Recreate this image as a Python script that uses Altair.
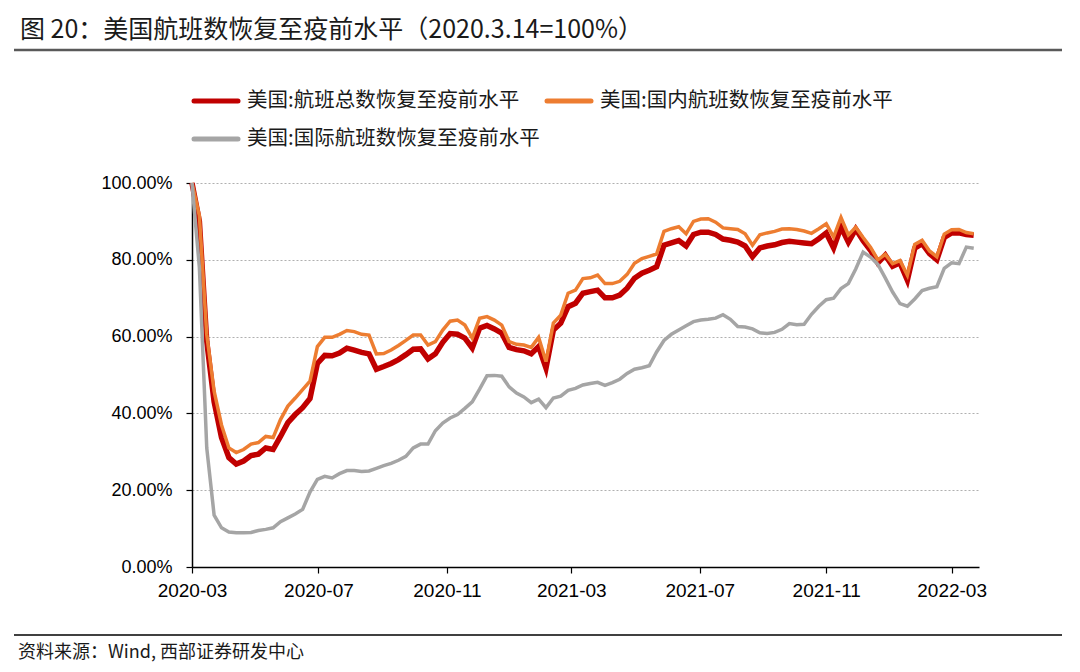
import altair as alt
import pandas as pd

title_text = "图 20：美国航班数恢复至疫前水平（2020.3.14=100%）"
source_text = "资料来源：Wind, 西部证券研发中心"
series_names = ["美国:航班总数恢复至疫前水平", "美国:国内航班数恢复至疫前水平", "美国:国际航班数恢复至疫前水平"]
series_colors = ["#C00000", "#ED7D31", "#A5A5A5"]
start_date = "2020-03-14"

# weekly index values, 2020-03-14 = 100
total = [100, 90, 58.7, 43, 33.7, 28.5, 26.8, 27.6, 29, 29.4, 31, 30.6, 34, 37.6, 39.7, 41.5, 43.9, 53,
         55.1, 55, 55.7, 57, 56.5, 55.9, 55.5, 51.5, 52.2, 53, 54, 55.3, 56.7, 56.8, 54.2, 55.5, 58.5,
         60.8, 60.6, 59.6, 57, 62.2, 62.9, 62, 60.9, 57.2, 56.6, 56.3, 55.5, 57.4, 51.8, 61.7, 63.5,
         67.8, 68.7, 71.3, 71.7, 72.1, 70.1, 70.1, 70.8, 72.6, 75.2, 76.5, 77.3, 78.2, 83.8, 84.4, 85,
         83.6, 86.6, 87.2, 87.2, 86.6, 85.4, 85.1, 84.6, 83.6, 80.8, 83.1, 83.6, 83.9, 84.5, 84.8, 84.6,
         84.4, 84.2, 85.5, 87, 83.1, 88.5, 84.6, 88, 85, 82.5, 79.2, 81.2, 78.3, 79.2, 74.7, 83, 84.2,
         81.6, 80, 85.8, 87, 87, 86.6, 86.4]
domestic = [100, 91.5, 60.5, 45.8, 37, 31, 29.8, 30.6, 32, 32.4, 34, 33.7, 38.4, 41.9, 44, 46.2, 48.4, 57.4,
            59.8, 59.8, 60.6, 61.6, 61.3, 60.6, 60.4, 55.5, 55.6, 56.5, 57.7, 59, 60.4, 60.4, 57.8, 58.7,
            61.7, 64, 64.3, 63, 59.6, 64.8, 65.2, 64.3, 63, 58.7, 58, 57.8, 57.2, 59.8, 53.5, 63.5, 65.6,
            71.3, 72.1, 75.1, 75.3, 76, 73.8, 73.8, 74.4, 76.2, 79.1, 80.3, 80.9, 81.5, 87.4, 88.1, 88.6,
            86.8, 90, 90.6, 90.7, 89.8, 88.3, 88.1, 87.9, 86.8, 83.8, 86.5, 87, 87.4, 88, 88.1, 87.9, 87.5,
            86.9, 88.1, 89.4, 85.9, 91, 86.5, 88.5, 85.8, 83.3, 80, 81.4, 79, 79.8, 76, 84, 85.1, 82.3,
            80.8, 86.7, 87.8, 87.9, 87.1, 86.8]
international = [100, 78, 31, 13.5, 10.2, 9.1, 8.9, 8.9, 9.0, 9.5, 9.8, 10.2, 11.8, 12.8, 13.8, 15, 19.5,
                 22.8, 23.6, 23.2, 24.3, 25.1, 25.1, 24.9, 25, 25.7, 26.4, 27, 27.8, 28.8, 31, 32, 32, 35.5,
                 37.5, 38.8, 39.7, 41.3, 43, 46.3, 49.8, 49.9, 49.7, 46.9, 45.3, 44.3, 42.8, 43.7, 41.5, 44,
                 44.5, 46, 46.5, 47.4, 47.8, 48.1, 47.3, 48, 48.9, 50.4, 51.5, 51.9, 52.4, 56, 59, 60.6, 61.7,
                 62.8, 63.9, 64.3, 64.5, 64.8, 65.7, 64.5, 62.6, 62.5, 62, 61, 60.8, 61.1, 61.9, 63.4, 63.1,
                 63.2, 65.8, 67.9, 69.6, 70, 72.5, 73.8, 77.6, 82, 80.7, 78.8, 75.3, 71.6, 68.6, 67.9, 69.8,
                 72, 72.6, 73, 77.8, 79.2, 79, 83.3, 83]

x_domain = ["2020-03-14", "2022-03-31"]
tick_dates = ["2020-03-14", "2020-07-12", "2020-11-11", "2021-03-09", "2021-07-09", "2021-11-06", "2022-03-05"]
y_ticks = [0, 0.2, 0.4, 0.6, 0.8, 1.0]

dates = pd.date_range(start_date, periods=len(total), freq="7D")
all_series = [total, domestic, international]
widths = [5.5, 3.5, 3.5]

LATIN = "Liberation Sans"
CJK = "Noto Sans CJK SC"

x_enc = alt.X(
    "date:T",
    scale=alt.Scale(domain=x_domain),
    axis=alt.Axis(
        title=None, values=tick_dates, format="%Y-%m", labelFont=LATIN, labelFontSize=19,
        labelColor="#000", domainColor="#000", domainWidth=1.5, tickColor="#000", tickSize=6,
        tickWidth=1.2, labelPadding=8, grid=False, labelFlush=False, labelOverlap=False,
    ),
)
y_enc = alt.Y(
    "value:Q",
    scale=alt.Scale(domain=[0, 1], nice=False),
    axis=alt.Axis(
        title=None, values=y_ticks, format=".2%", labelFont=LATIN, labelFontSize=18,
        labelColor="#000", domainColor="#000", domainWidth=1.5, tickColor="#000", tickSize=6,
        tickWidth=1.2, labelPadding=14, grid=True, gridColor="#B0B0B0", gridDash=[2, 2],
        gridWidth=1.2,
    ),
)

layers = []
for name, vals, col, w in zip(series_names, all_series, series_colors, widths):
    d = pd.DataFrame({"date": dates, "value": [v / 100 for v in vals], "series": name})
    layers.append(
        alt.Chart(d).mark_line(color=col, strokeWidth=w, strokeJoin="miter", strokeCap="butt").encode(
            x=x_enc, y=y_enc
        )
    )

one = pd.DataFrame({"k": [0]})

# title and separators
title = alt.Chart(pd.DataFrame({"t": [title_text]})).mark_text(
    align="left", baseline="middle", font=CJK, fontSize=25, color="#1a1a1a"
).encode(x=alt.value(-172), y=alt.value(-153), text="t:N")
top_line = alt.Chart(one).mark_rule(color="#595959", strokeWidth=2.5).encode(
    x=alt.value(-178), x2=alt.value(870), y=alt.value(-133)
)
bottom_line = alt.Chart(one).mark_rule(color="#000", strokeWidth=1.5).encode(
    x=alt.value(-178), x2=alt.value(870), y=alt.value(452)
)
source = alt.Chart(pd.DataFrame({"t": [source_text]})).mark_text(
    align="left", baseline="middle", font=CJK, fontSize=18, color="#1a1a1a"
).encode(x=alt.value(-174), y=alt.value(470), text="t:N")

# manual legend
legend_pos = [(0, -82), (353, -82), (0, -44)]
legend_layers = []
for name, col, (lx, ly) in zip(series_names, series_colors, legend_pos):
    ld = pd.DataFrame({"t": [name]})
    legend_layers.append(
        alt.Chart(ld).mark_rule(color=col, strokeWidth=5, strokeCap="round").encode(
            x=alt.value(lx + 2), x2=alt.value(lx + 46), y=alt.value(ly)
        )
    )
    legend_layers.append(
        alt.Chart(ld).mark_text(align="left", baseline="middle", font=CJK, fontSize=20.5, color="#1a1a1a").encode(
            x=alt.value(lx + 55), y=alt.value(ly), text="t:N"
        )
    )

chart = alt.layer(*layers, title, top_line, bottom_line, source, *legend_layers).properties(
    width=787, height=384,
    padding={"left": 184, "top": 175, "right": 90, "bottom": 97},
    autosize=alt.AutoSizeParams(type="none"),
    background="white",
).configure_view(stroke=None)

chart.save("out.html", embed_options={"renderer": "svg", "actions": False})
